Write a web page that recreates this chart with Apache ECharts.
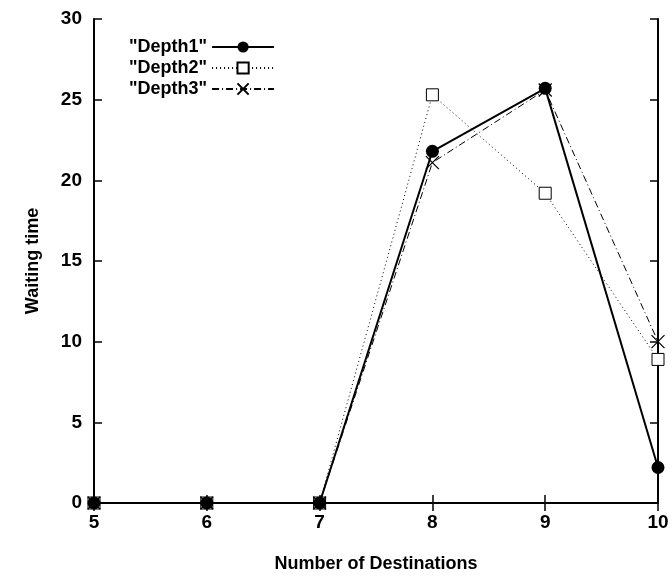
<!DOCTYPE html>
<html>
<head>
<meta charset="utf-8">
<script src="https://cdn.jsdelivr.net/npm/echarts@6/dist/echarts.min.js"></script>
<style>
  html, body { margin: 0; padding: 0; background: #fff; }
  #chart { width: 672px; height: 578px; }
</style>
</head>
<body>
<div id="chart"></div>
<script>
// data
var destinations = [5, 6, 7, 8, 9, 10];
var depth1 = [0, 0, 0, 21.8, 25.7, 2.2];
var depth2 = [0, 0, 0, 25.3, 19.2, 8.9];
var depth3 = [0, 0, 0, 21.1, 25.6, 10.0];
var seriesNames = ['"Depth1"', '"Depth2"', '"Depth3"'];

var font = '"Liberation Sans", Arial, sans-serif';

function pairs(vals) {
  return destinations.map(function (d, i) { return [d, vals[i]]; });
}

var myChart = echarts.init(document.getElementById('chart'));

var axisBase = {
  axisLine: { lineStyle: { color: '#000', width: 2 } },
  axisTick: { inside: true, length: 8, lineStyle: { color: '#000', width: 1.5 } },
  splitLine: { show: false }
};

myChart.setOption({
  animation: false,
  grid: { left: 94, right: 14, top: 19, bottom: 75, outerBoundsMode: 'none' },
  legend: {
    orient: 'vertical',
    left: 124,
    top: 33,
    align: 'right',
    itemWidth: 62,
    itemHeight: 14,
    itemGap: 3,
    textStyle: { fontFamily: font, fontWeight: 'bold', fontSize: 18, color: '#000' },
    data: seriesNames
  },
  xAxis: [
    Object.assign({}, axisBase, {
      type: 'value', min: 5, max: 10, interval: 1, position: 'bottom',
      name: 'Number of Destinations', nameLocation: 'middle', nameGap: 52,
      nameTextStyle: { fontFamily: font, fontWeight: 'bold', fontSize: 18, color: '#000' },
      axisLabel: { fontFamily: font, fontWeight: 'bold', fontSize: 19, color: '#000', margin: 10 }
    }),
    Object.assign({}, axisBase, {
      type: 'value', min: 5, max: 10, interval: 1, position: 'top',
      axisLabel: { show: false }
    })
  ],
  yAxis: [
    Object.assign({}, axisBase, {
      type: 'value', min: 0, max: 30, interval: 5, position: 'left',
      name: 'Waiting time', nameLocation: 'middle', nameGap: 52, nameRotate: 90,
      nameTextStyle: { fontFamily: font, fontWeight: 'bold', fontSize: 18, color: '#000' },
      axisLabel: { fontFamily: font, fontWeight: 'bold', fontSize: 19, color: '#000', margin: 12 }
    }),
    Object.assign({}, axisBase, {
      type: 'value', min: 0, max: 30, interval: 5, position: 'right',
      axisLabel: { show: false }
    })
  ],
  series: [
    {
      name: seriesNames[0], type: 'line', data: pairs(depth1), z: 5,
      symbol: 'circle', symbolSize: 13,
      itemStyle: { color: '#000' },
      lineStyle: { color: '#000', width: 2 }
    },
    {
      name: seriesNames[1], type: 'line', data: pairs(depth2), z: 3,
      symbol: 'rect', symbolSize: 12,
      itemStyle: { color: '#fff', borderColor: '#000', borderWidth: 1 },
      lineStyle: { color: '#000', width: 1, type: [1, 3] }
    },
    {
      name: seriesNames[2], type: 'line', data: pairs(depth3), z: 4,
      symbol: 'path://M0,0L10,10M10,0L0,10', symbolSize: 13,
      itemStyle: { color: 'transparent', borderColor: '#000', borderWidth: 1.2 },
      lineStyle: { color: '#000', width: 1, type: [7, 3, 1, 3] }
    }
  ]
});
window.addEventListener('resize', function () {
  myChart.resize();
});
</script>
</body>
</html>
